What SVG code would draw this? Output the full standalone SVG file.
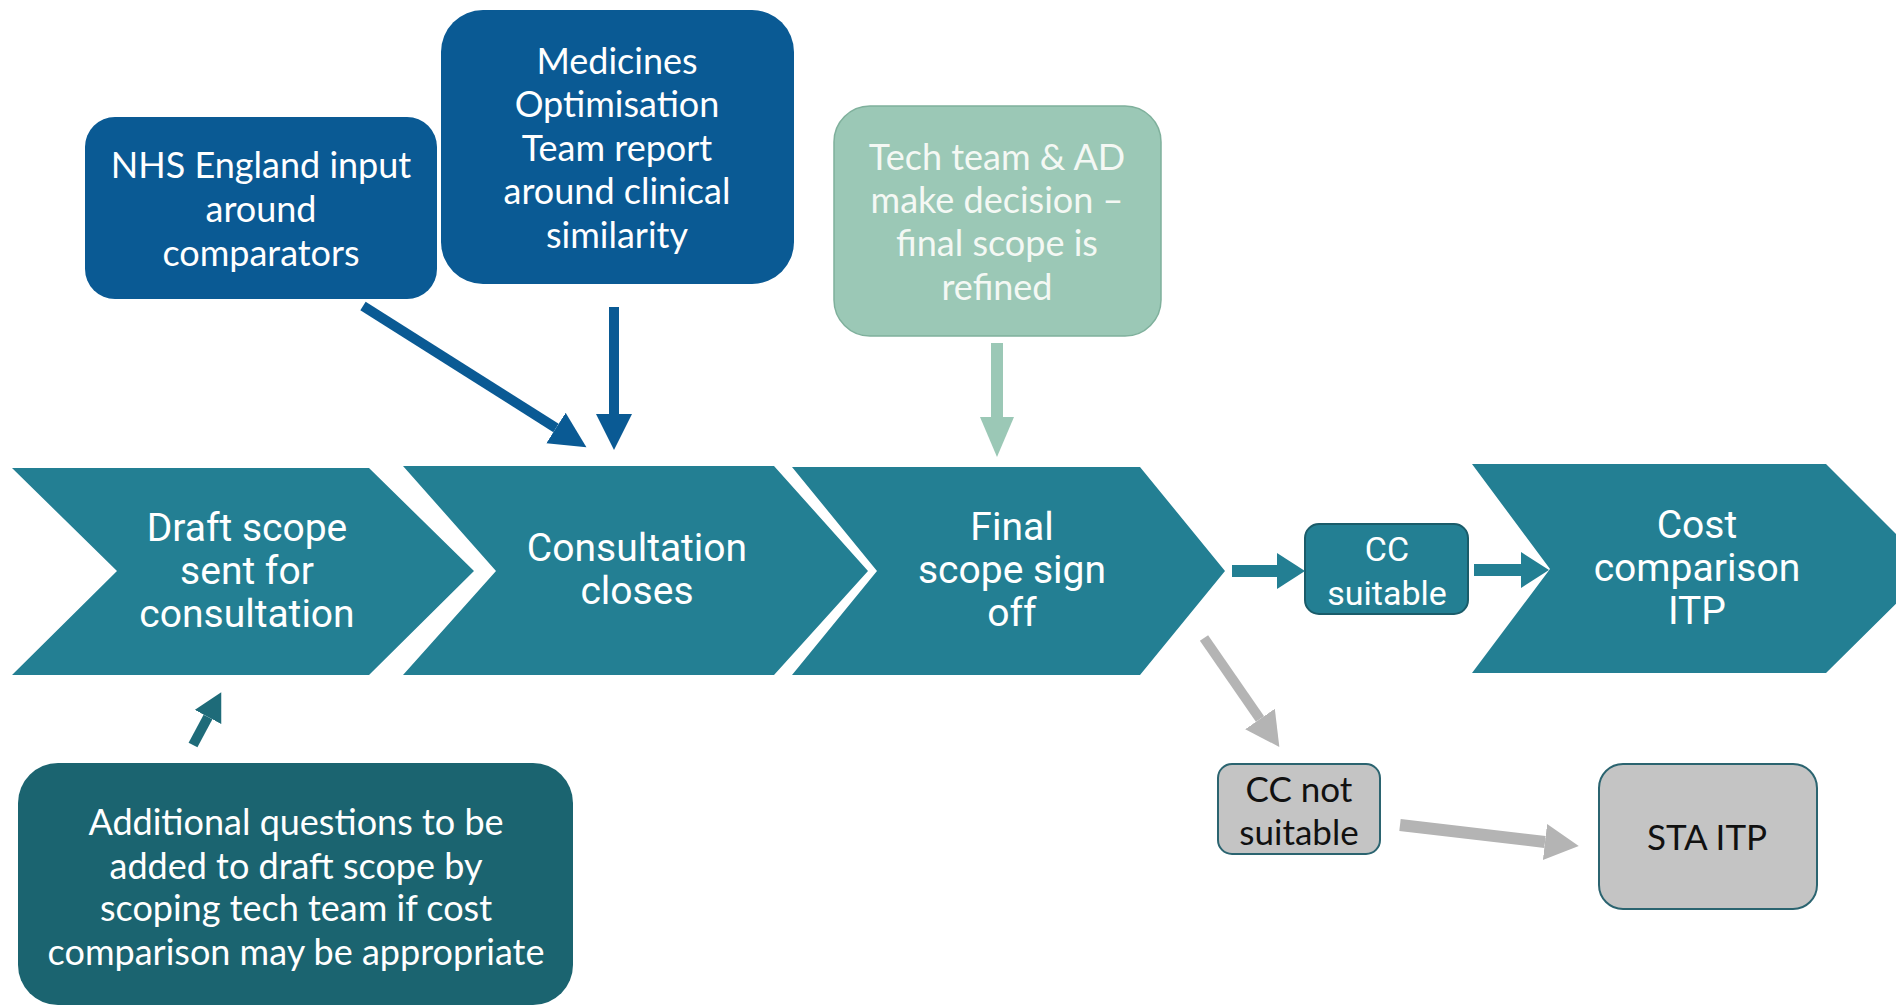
<svg xmlns="http://www.w3.org/2000/svg" width="1896" height="1007" viewBox="0 0 1896 1007">
<style>
.chev{fill:#237f93}
.ct{font-family:Roboto,"Liberation Sans",sans-serif;font-size:39px;fill:#ffffff;text-anchor:middle}
.bt{font-family:Lato,"Liberation Sans",sans-serif;font-size:36px;fill:#ffffff;text-anchor:middle}
.gt{font-family:Lato,"Liberation Sans",sans-serif;font-size:35px;fill:#111111;text-anchor:middle}
</style>
<defs>
<marker id="hBlue" markerUnits="userSpaceOnUse" markerWidth="40" markerHeight="40" refX="0" refY="18" orient="auto"><path d="M0,0 L36,18 L0,36 Z" fill="#0a5a94"/></marker>
<marker id="hGreen" markerUnits="userSpaceOnUse" markerWidth="44" markerHeight="40" refX="0" refY="17" orient="auto"><path d="M0,0 L40,17 L0,34 Z" fill="#9bc8b6"/></marker>
<marker id="hDark" markerUnits="userSpaceOnUse" markerWidth="34" markerHeight="34" refX="0" refY="15" orient="auto"><path d="M0,0 L28,15 L0,30 Z" fill="#1e6b79"/></marker>
<marker id="hTeal" markerUnits="userSpaceOnUse" markerWidth="34" markerHeight="40" refX="0" refY="18" orient="auto"><path d="M0,0 L28,18 L0,36 Z" fill="#237f93"/></marker>
<marker id="hGray" markerUnits="userSpaceOnUse" markerWidth="40" markerHeight="40" refX="0" refY="18" orient="auto"><path d="M0,0 L34,18 L0,36 Z" fill="#b4b4b4"/></marker>
</defs>
<rect width="1896" height="1007" fill="#ffffff"/>

<g id="chevron-draft">
<path class="chev" d="M12,468 L369,468 L474,571 L369,675 L12,675 L117,571 Z"/>
<text class="ct"><tspan x="247" y="541">Draft scope</tspan><tspan x="247" y="584">sent for</tspan><tspan x="247" y="627">consultation</tspan></text>
</g>
<g id="chevron-consultation">
<path class="chev" d="M403,466 L774,466 L868,571 L774,675 L403,675 L496,571 Z"/>
<text class="ct"><tspan x="637" y="561">Consultation</tspan><tspan x="637" y="604">closes</tspan></text>
</g>
<g id="chevron-final">
<path class="chev" d="M792,467 L1140,467 L1225,571 L1140,675 L792,675 L877,571 Z"/>
<text class="ct"><tspan x="1012" y="540">Final</tspan><tspan x="1012" y="583">scope sign</tspan><tspan x="1012" y="626">off</tspan></text>
</g>
<g id="chevron-cost">
<path class="chev" d="M1472,464 L1826,464 L1931,569 L1826,673 L1472,673 L1550,569 Z"/>
<text class="ct"><tspan x="1697" y="538">Cost</tspan><tspan x="1697" y="581">comparison</tspan><tspan x="1697" y="624">ITP</tspan></text>
</g>

<g id="box-nhs">
<rect x="85" y="117" width="352" height="182" rx="30" fill="#0a5a94"/>
<text class="bt"><tspan x="261" y="178">NHS England input</tspan><tspan x="261" y="222">around</tspan><tspan x="261" y="266">comparators</tspan></text>
</g>
<g id="box-medicines">
<rect x="441" y="10" width="353" height="274" rx="42" fill="#0a5a94"/>
<text class="bt"><tspan x="617" y="74">Medicines</tspan><tspan x="617" y="117">Optimisation</tspan><tspan x="617" y="161">Team report</tspan><tspan x="617" y="204">around clinical</tspan><tspan x="617" y="248">similarity</tspan></text>
</g>
<g id="box-tech">
<rect x="834" y="106" width="327" height="230" rx="36" fill="#9bc8b6" stroke="#7fb09c" stroke-width="1.5"/>
<text class="bt" style="fill:#f4f8f4"><tspan x="997" y="170">Tech team &amp; AD</tspan><tspan x="997" y="213">make decision –</tspan><tspan x="997" y="256">final scope is</tspan><tspan x="997" y="300">refined</tspan></text>
</g>
<g id="box-additional">
<rect x="18" y="763" width="555" height="242" rx="40" fill="#1b6470"/>
<text class="bt"><tspan x="296" y="835">Additional questions to be</tspan><tspan x="296" y="879">added to draft scope by</tspan><tspan x="296" y="921">scoping tech team if cost</tspan><tspan x="296" y="965">comparison may be appropriate</tspan></text>
</g>
<g id="box-cc-suitable">
<rect x="1305" y="524" width="163" height="90" rx="14" fill="#237f93" stroke="#1a5c6a" stroke-width="2"/>
<text class="ct" style="font-size:34px"><tspan x="1387" y="561">CC</tspan><tspan x="1387" y="605">suitable</tspan></text>
</g>
<g id="box-cc-not">
<rect x="1218" y="764" width="162" height="90" rx="14" fill="#c4c4c4" stroke="#2b6470" stroke-width="2"/>
<text class="gt"><tspan x="1299" y="802">CC not</tspan><tspan x="1299" y="845">suitable</tspan></text>
</g>
<g id="box-sta">
<rect x="1599" y="764" width="218" height="145" rx="24" fill="#c4c4c4" stroke="#2b6470" stroke-width="2"/>
<text class="gt"><tspan x="1707" y="850">STA ITP</tspan></text>
</g>

<g id="connectors" fill="none">
<line x1="363" y1="306" x2="556" y2="428" stroke="#0a5a94" stroke-width="10" marker-end="url(#hBlue)"/>
<line x1="614" y1="307" x2="614" y2="414" stroke="#0a5a94" stroke-width="10" marker-end="url(#hBlue)"/>
<line x1="997" y1="343" x2="997" y2="417" stroke="#9bc8b6" stroke-width="12" marker-end="url(#hGreen)"/>
<line x1="193" y1="745" x2="208" y2="717" stroke="#1e6b79" stroke-width="10" marker-end="url(#hDark)"/>
<line x1="1232" y1="571" x2="1277" y2="571" stroke="#237f93" stroke-width="12" marker-end="url(#hTeal)"/>
<line x1="1474" y1="570" x2="1521" y2="570" stroke="#237f93" stroke-width="12" marker-end="url(#hTeal)"/>
<line x1="1204" y1="638" x2="1260" y2="719" stroke="#b4b4b4" stroke-width="10" marker-end="url(#hGray)"/>
<line x1="1400" y1="825" x2="1545" y2="842" stroke="#b4b4b4" stroke-width="12" marker-end="url(#hGray)"/>
</g>
</svg>
